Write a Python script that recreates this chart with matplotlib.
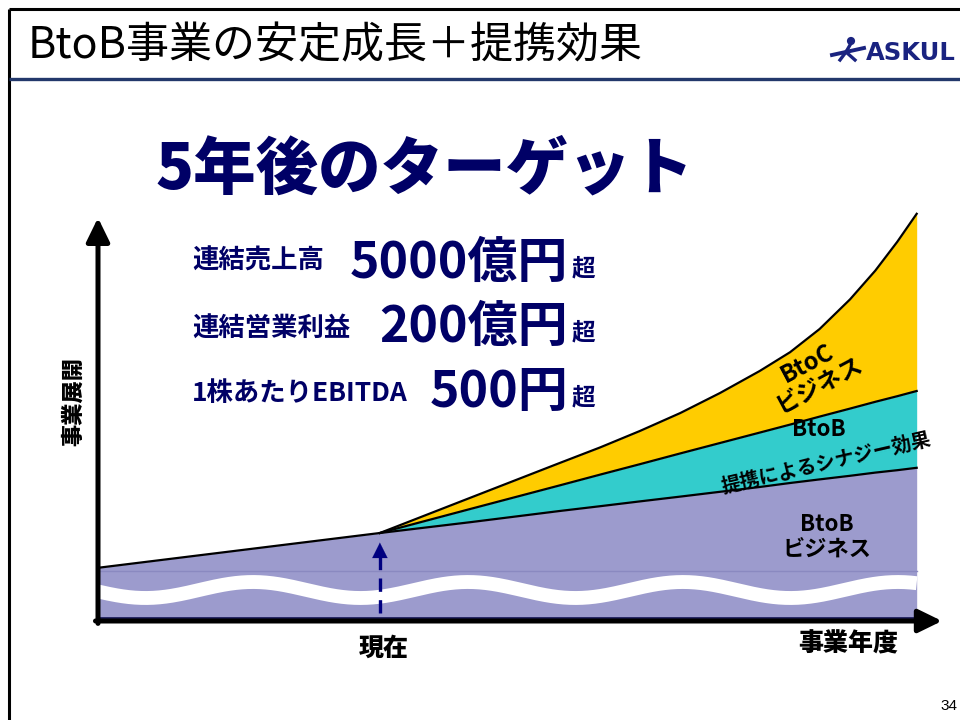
import numpy as np
import matplotlib
matplotlib.use('Agg')
import matplotlib.pyplot as plt
from matplotlib.patches import Circle

plt.rcParams['font.family'] = ['Noto Sans CJK JP', 'DejaVu Sans']

# Business expansion over time (abstract units on both axes)
years = [0, 3.34, 4.41, 5.47, 5.95, 6.42, 6.90, 7.37, 7.84, 8.20, 8.55, 8.91, 9.21, 9.47, 9.70]
btob_base = [1.33, 2.20, 2.47, 2.75, 2.87, 2.99, 3.11, 3.23, 3.35, 3.45, 3.54, 3.63, 3.71, 3.77, 3.83]
btob_synergy_top = [1.33, 2.20, 2.80, 3.39, 3.66, 3.92, 4.19, 4.45, 4.71, 4.91, 5.11, 5.31, 5.48, 5.62, 5.75]
btoc_top = [1.33, 2.20, 3.08, 3.95, 4.34, 4.75, 5.20, 5.70, 6.25, 6.72, 7.30, 8.04, 8.76, 9.48, 10.18]
now_year = 3.34

# Five-year targets
target_labels = ['連結売上高', '連結営業利益', '1株あたりEBITDA']
target_values = ['5000億円', '200億円', '500円']

NAVY = '#000066'
PURPLE = '#9C9BCD'
TEAL = '#33CCCC'
YELLOW = '#FFCC00'

fig = plt.figure(figsize=(9.6, 7.2), dpi=100)

# slide background layer in pixel coordinates
bg = fig.add_axes([0, 0, 1, 1])
bg.set_xlim(0, 960)
bg.set_ylim(720, 0)
bg.axis('off')

bg.plot([8.5, 960], [8.5, 8.5], color='black', lw=2.2, solid_capstyle='butt')
bg.plot([8.5, 8.5], [8.5, 720], color='black', lw=2.2, solid_capstyle='butt')
bg.plot([8.5, 960], [79, 79], color='#23386B', lw=2.4, solid_capstyle='butt')

bg.text(28, 46, 'BtoB事業の安定成長＋提携効果', fontsize=31, ha='left', va='center', color='black')

# ASKUL logo
LOGO = '#1A2380'
bg.text(866, 53, 'ASKUL', fontsize=17.5, fontweight='bold', family='DejaVu Sans',
        color=LOGO, ha='left', va='center')
bg.add_patch(Circle((851, 41), 3.4, color=LOGO))
bg.plot([850, 846], [45, 52], color=LOGO, lw=2.4)
bg.plot([846, 840], [52, 60], color=LOGO, lw=2.4)
bg.plot([846, 855], [52, 60], color=LOGO, lw=2.4)
bg.plot([832, 864], [55, 48], color=LOGO, lw=2.8)

bg.text(425, 170, '5年後のターゲット', fontsize=45, fontweight='heavy', color=NAVY,
        ha='center', va='center')

label_base = [269, 337, 401]
value_base = [278, 342, 407]
for lab, val, yl, yv in zip(target_labels, target_values, label_base, value_base):
    bg.text(192, yl, lab, fontsize=19, fontweight='bold', color=NAVY, ha='left', va='baseline')
    bg.text(568, yv, val, fontsize=36, fontweight='bold', color=NAVY, ha='right', va='baseline')
    bg.text(572, yv - 3, '超', fontsize=17, fontweight='bold', color=NAVY, ha='left', va='baseline')

bg.text(74, 402, '事業展開', fontsize=16, fontweight='heavy', rotation=90, ha='center', va='center')
bg.text(384, 648, '現在', fontsize=18, fontweight='heavy', ha='center', va='center')
bg.text(848, 643, '事業年度', fontsize=18, fontweight='heavy', ha='center', va='center')
bg.text(949, 706, '34', fontsize=11, family='Liberation Sans', ha='center', va='center')

# chart area: x from px 98 to 942, y from px 621 up to 201
ax = fig.add_axes([98 / 960, (720 - 621) / 720, 844 / 960, 420 / 720])
ax.set_xlim(0, 10)
ax.set_ylim(0, 10.5)
ax.axis('off')
ax.patch.set_alpha(0)

ax.fill_between(years, 0, btob_base, color=PURPLE, lw=0)
ax.fill_between(years, btob_base, btob_synergy_top, color=TEAL, lw=0)
ax.fill_between(years, btob_synergy_top, btoc_top, color=YELLOW, lw=0)

ax.plot([0, years[-1]], [1.25, 1.25], color='#8A89C0', lw=1)
ax.plot([0, years[-1]], [0.08, 0.08], color='#1C1C5A', lw=2)

# break mark across the base band
wx = np.linspace(0, years[-1], 400)
wy = 0.775 + 0.2 * np.cos(2 * np.pi * (wx - 1.836) / 2.547)
ax.plot(wx, wy, color='white', lw=10, solid_capstyle='butt')

ax.plot(years, btob_base, color='black', lw=1.6)
ax.plot(years[1:], btob_synergy_top[1:], color='black', lw=1.6)
ax.plot(years[1:], btoc_top[1:], color='black', lw=1.6)

# "now" marker
ax.plot([now_year, now_year], [0.2, 1.75], color='#000080', lw=2.4, dashes=(4, 2.5))
ax.annotate('', xy=(now_year, 2.03), xytext=(now_year, 1.6),
            arrowprops=dict(arrowstyle='-|>,head_length=0.5,head_width=0.25',
                            color='#000080', lw=0.1, mutation_scale=22))

# axes with arrow heads
ax.annotate('', xy=(0, 10.08), xytext=(0, -0.06), annotation_clip=False,
            arrowprops=dict(arrowstyle='-|>,head_length=0.45,head_width=0.22',
                            color='black', lw=3.6, mutation_scale=32, shrinkA=0, shrinkB=0))
ax.annotate('', xy=(10.0, 0), xytext=(-0.03, 0), annotation_clip=False,
            arrowprops=dict(arrowstyle='-|>,head_length=0.45,head_width=0.22',
                            color='black', lw=3.6, mutation_scale=32, shrinkA=0, shrinkB=0))

# area labels, placed in slide pixels but drawn above the fills
px = bg.transData
ax.text(813, 374, 'BtoC\nビジネス', transform=px, fontsize=17, fontweight='bold', rotation=28,
        ha='center', va='center', linespacing=1.0, multialignment='center', clip_on=False)
ax.text(819, 430, 'BtoB', transform=px, fontsize=16, fontweight='bold',
        ha='center', va='center', clip_on=False)
ax.text(826, 463, '提携によるシナジー効果', transform=px, fontsize=14, fontweight='bold',
        rotation=13, ha='center', va='center', clip_on=False)
ax.text(827, 537, 'BtoB\nビジネス', transform=px, fontsize=16, fontweight='bold',
        ha='center', va='center', linespacing=1.1, multialignment='center', clip_on=False)

fig.savefig('out.png', dpi=100)
